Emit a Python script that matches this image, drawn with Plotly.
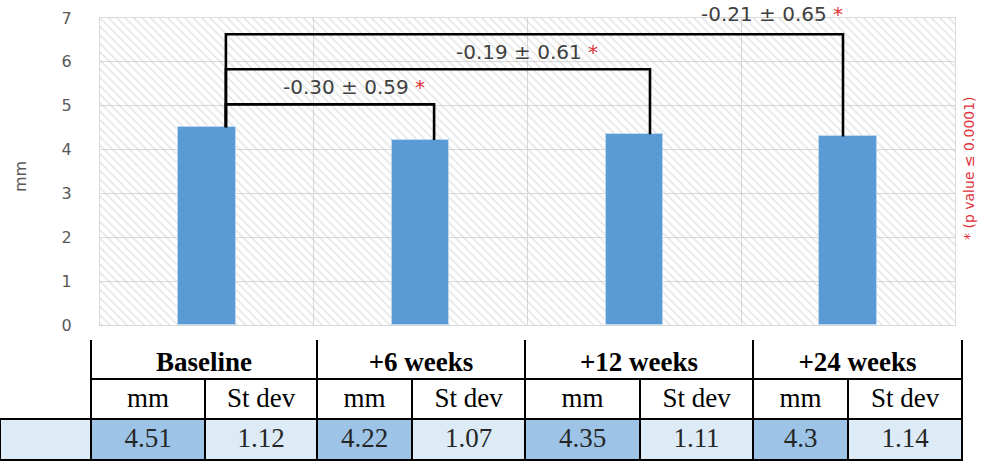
import plotly.graph_objects as go

# ---- data ----
categories = ["Baseline", "+6 weeks", "+12 weeks", "+24 weeks"]
mm_values = [4.51, 4.22, 4.35, 4.30]
sd_values = [1.12, 1.07, 1.11, 1.14]
diff_labels = ["-0.30 ± 0.59", "-0.19 ± 0.61", "-0.21 ± 0.65"]
bracket_levels = [5.03, 5.83, 6.63]
y_ticks = [0, 1, 2, 3, 4, 5, 6, 7]
sub_headers = ["mm", "St dev"]
footnote = "* (p value ≤ 0.0001)"

# ---- style ----
BAR = "#5B9BD5"
GRID = "#D9D9D9"
TXT = "#404040"
RED = "#E0303A"
DARK_CELL = "#9DC3E6"
LIGHT_CELL = "#DDEBF7"
n = len(categories)
x_idx = list(range(n))
ymax = y_ticks[-1]

left_off = 0.089
right_offs = [0.063, 0.073, -0.024]
label_dx = [-0.375, -0.576, -0.331]   # relative to bracket right end
label_shift = [17, 17, 20]            # px above bracket level

W, H = 983, 462
TABLE_R = 962 / W


def py(px):
    return 1 - px / H


fig = go.Figure()

# hatched plot background
fig.add_trace(go.Bar(
    x=[(n - 1) / 2], y=[ymax], width=[n],
    marker=dict(color="rgba(0,0,0,0)", line=dict(width=0),
                pattern=dict(shape="\\", fgcolor="#C8C8C8", bgcolor="rgba(0,0,0,0)",
                             size=6, solidity=0.25)),
    hoverinfo="skip", showlegend=False))

fig.add_trace(go.Bar(
    x=x_idx, y=mm_values, width=0.27,
    marker=dict(color=BAR, line=dict(color="#BDD7EE", width=1)),
    showlegend=False))

# brackets
for k in range(1, n):
    lvl = bracket_levels[k - 1]
    x0 = x_idx[0] + left_off
    x1 = x_idx[k] + right_offs[k - 1]
    fig.add_trace(go.Scatter(
        x=[x0, x0, x1, x1], y=[mm_values[0], lvl, lvl, mm_values[k]],
        mode="lines", line=dict(color="black", width=2.6),
        hoverinfo="skip", showlegend=False))
    fig.add_annotation(
        x=x1 + label_dx[k - 1], y=lvl, yshift=label_shift[k - 1],
        text=diff_labels[k - 1] + " <span style='color:%s'>*</span>" % RED,
        showarrow=False, font=dict(family="DejaVu Sans", size=20, color=TXT))

fig.add_annotation(x=20 / W, y=py(177), xref="paper", yref="paper",
                   xanchor="center", yanchor="middle",
                   text="mm", textangle=-90, showarrow=False,
                   font=dict(family="DejaVu Sans", size=16, color="#595959"))
fig.add_annotation(x=969 / W, y=py(168), xref="paper", yref="paper",
                   xanchor="center", yanchor="middle",
                   text=footnote, textangle=-90, showarrow=False,
                   font=dict(family="DejaVu Sans", size=14, color=RED))

# ---- tables (each row a header-only table) ----
TFONT = dict(family="Liberation Serif", size=27, color="black")

# row 1: group names
fig.add_trace(go.Table(
    domain=dict(x=[0, TABLE_R], y=[py(380), py(339)]),
    columnwidth=[91, 226, 208, 228, 209],
    header=dict(values=[""] + ["<b>%s</b>" % c for c in categories],
                height=40, align="center", fill_color="white",
                line=dict(color=["white"] + ["black"] * n, width=2),
                font=TFONT)))

# mask the top border of row 1 (no top rule in the original)
fig.add_trace(go.Table(
    domain=dict(x=[88 / W, TABLE_R + 2 / W], y=[py(341), py(335)]),
    header=dict(values=[""], height=5, fill_color="white",
                line=dict(color="white", width=0),
                font=dict(size=1, color="white"))))

# row 2: sub headers
fig.add_trace(go.Table(
    domain=dict(x=[0, TABLE_R], y=[py(420), py(379)]),
    columnwidth=[91, 114, 112, 95, 113, 115, 113, 95, 114],
    header=dict(values=[""] + sub_headers * n, height=40, align="center",
                fill_color="white",
                line=dict(color=["white"] + ["black"] * (2 * n), width=2),
                font=TFONT)))

# row 3: values
row_vals = [""]
row_fill = [LIGHT_CELL]
for m, s in zip(mm_values, sd_values):
    mm_txt = "%.2f" % m
    if mm_txt.endswith("0"):
        mm_txt = mm_txt[:-1]
    row_vals += [mm_txt, "%.2f" % s]
    row_fill += [DARK_CELL, LIGHT_CELL]
fig.add_trace(go.Table(
    domain=dict(x=[0, TABLE_R], y=[py(461), py(419)]),
    columnwidth=[91, 114, 112, 95, 113, 115, 113, 95, 114],
    header=dict(values=row_vals, height=41, align="center",
                fill=dict(color=row_fill),
                line=dict(color="black", width=2),
                font=dict(family="Liberation Serif", size=27, color="#262626"))))

fig.update_layout(
    width=W, height=H, margin=dict(l=0, r=0, t=0, b=0, autoexpand=False),
    paper_bgcolor="white", plot_bgcolor="white",
    barmode="overlay", bargap=0,
    xaxis=dict(domain=[100 / W, 955 / W], range=[-0.5, n - 0.5], automargin=False,
               tickvals=[i + 0.5 for i in x_idx[:-1]], showticklabels=False,
               showgrid=True, gridcolor=GRID, gridwidth=1, zeroline=False,
               showline=True, mirror=True, linecolor=GRID, ticks=""),
    yaxis=dict(domain=[py(325), py(18)], range=[0, ymax], automargin=False,
               tickvals=y_ticks, showgrid=True, gridcolor=GRID, gridwidth=1,
               zeroline=False, showline=True, mirror=True, linecolor=GRID,
               ticks="", ticklabelstandoff=24,
               tickfont=dict(family="DejaVu Sans", size=16, color="#595959")),
)

fig.write_html("out.html", config={"displayModeBar": False},
               post_script="document.body.style.margin='0';"
                           "document.body.style.overflow='hidden';")
